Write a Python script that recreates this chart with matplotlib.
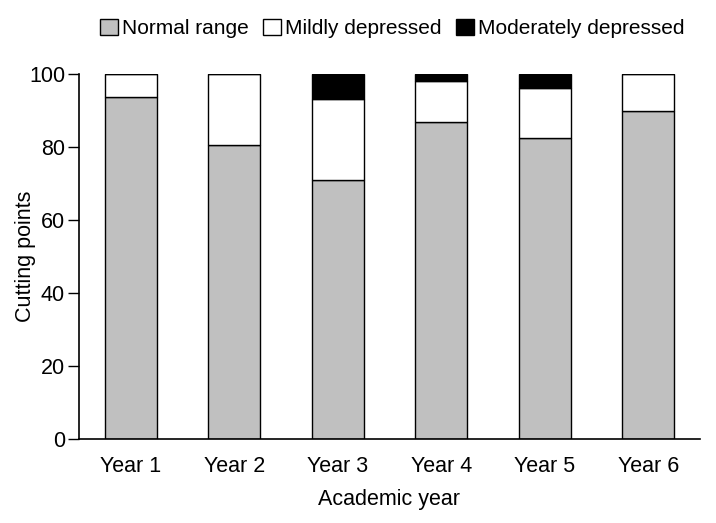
import matplotlib
matplotlib.use("Agg")
import matplotlib.pyplot as plt
import numpy as np

plt.rcParams['font.family'] = ['Liberation Sans', 'DejaVu Sans']

years = ["Year 1", "Year 2", "Year 3", "Year 4", "Year 5", "Year 6"]
normal = [93.6, 80.5, 70.9, 86.8, 82.6, 90.0]
mild = [6.4, 19.5, 22.3, 11.4, 13.7, 10.0]
moderate = [0.0, 0.0, 6.8, 1.8, 3.7, 0.0]

fs = 15.5
fig = plt.figure(figsize=(7.16, 5.23), dpi=100)
ax = fig.add_axes([79/716, 1-439/523, (700-79)/716, (439-74)/523])

x = np.arange(len(years))
w = 0.5
b1 = ax.bar(x, normal, w, color="#c0c0c0", edgecolor="black", linewidth=1, label="Normal range")
b2 = ax.bar(x, mild, w, bottom=normal, color="white", edgecolor="black", linewidth=1, label="Mildly depressed")
bot2 = np.array(normal) + np.array(mild)
b3 = ax.bar(x, moderate, w, bottom=bot2, color="black", edgecolor="black", linewidth=1, label="Moderately depressed")

ax.set_xlim(-0.5, 5.5)
ax.set_ylim(0, 100)
ax.set_yticks([0, 20, 40, 60, 80, 100])
ax.set_xticks(x)
ax.set_xticklabels(years)
ax.tick_params(axis='x', length=0, labelsize=fs, pad=12)
ax.tick_params(axis='y', length=8, width=1, labelsize=fs, direction='out', pad=2)
for s in ["top", "right"]:
    ax.spines[s].set_visible(False)
ax.spines["left"].set_linewidth(1.2)
ax.spines["bottom"].set_linewidth(1.2)
ax.set_ylabel("Cutting points", fontsize=fs)
ax.yaxis.set_label_coords((36 - 79) / 621, 0.5)
ax.set_xlabel("Academic year", fontsize=fs, labelpad=9)

fig.legend(handles=[b1, b2, b3], loc="upper center", bbox_to_anchor=(0.548, 1.0), ncol=3,
           frameon=False, fontsize=15, handlelength=0.85, handleheight=0.85,
           handletextpad=0.2, columnspacing=0.7, borderaxespad=0.5)

fig.savefig("out.png", dpi=100)
